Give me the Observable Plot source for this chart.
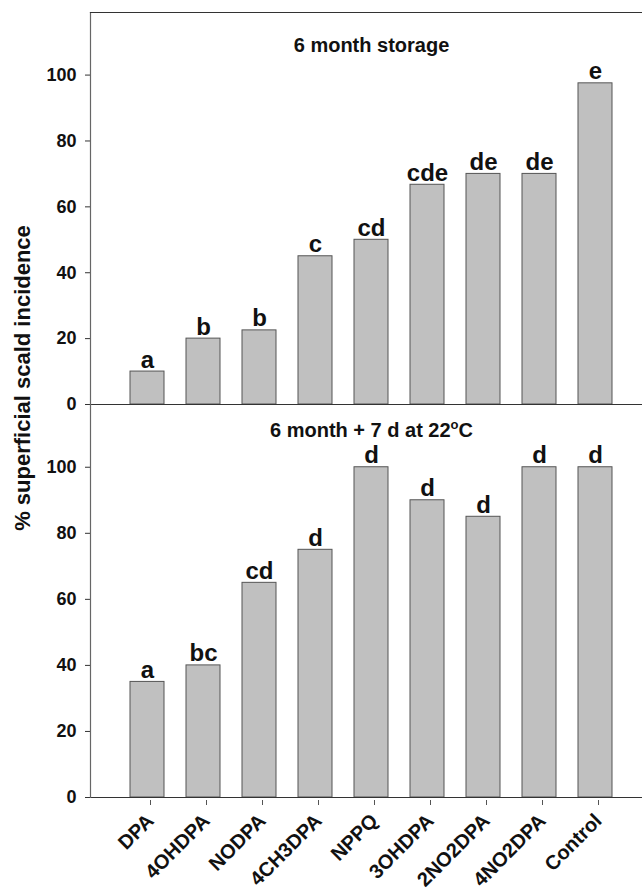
<!DOCTYPE html>
<html><head><meta charset="utf-8">
<script src="https://cdn.jsdelivr.net/npm/d3@7"></script>
<script src="https://cdn.jsdelivr.net/npm/@observablehq/plot@0.6"></script>
<style>
body{margin:0;background:#fff;font-family:"Liberation Sans",Arial,sans-serif}
#chart{position:relative;width:642px;height:892px;overflow:hidden;background:#fff}
#chart svg{display:block}
#chart svg.lower{margin-top:-12px}
#ylab{position:absolute;left:23px;top:378px;transform:translate(-50%,-50%) rotate(-90deg);white-space:nowrap;font-size:22px;font-weight:bold;color:#111}
</style>
</head><body><div id="chart"></div>
<script>
const treatments = ["DPA","4OHDPA","NODPA","4CH3DPA","NPPQ","3OHDPA","2NO2DPA","4NO2DPA","Control"];
const storage = [10, 20, 22.5, 45, 50, 66.7, 70, 70, 97.5];
const storageLetters = ["a","b","b","c","cd","cde","de","de","e"];
const shelf = [35, 40, 65, 75, 100, 90, 85, 100, 100];
const shelfLetters = ["a","bc","cd","d","d","d","d","d","d"];
const panelTitles = ["6 month storage", "6 month + 7 d at 22°C"];
const yTicks = [0, 20, 40, 60, 80, 100];
const yLabel = "% superficial scald incidence";

const xScale = {type:"band", domain: treatments, range:[106.6, 635.4], padding:0.4};
const yScale = {domain:[0,119]};
const lineColor = "#333";

function panel(values, letters, title, opts) {
  const rows = treatments.map((t,i)=>({t, v: values[i], l: letters[i]}));
  const marks = [
    Plot.barY(rows, {x:"t", y:"v", fill:"#c0c0c0", stroke:"#555", strokeWidth:1}),
    Plot.text(rows, {x:"t", y:"v", text:"l", lineAnchor:"bottom", dy:-4, fontSize:24, fontWeight:"bold", fill:"#111"}),
    Plot.text([title], {frameAnchor:"top", dx:5, dy:opts.titleDy, lineAnchor:"middle", fontSize:20, fontWeight:"bold", fill:"#111"}),
    Plot.axisY({ticks:yTicks, tickSize:5, tickPadding:9, fontSize:18, fontWeight:"bold", label:null, stroke:lineColor, color:"#111"}),
    Plot.ruleY([0], {stroke:lineColor, strokeWidth:1.2}),
    Plot.frame({anchor:"left", stroke:"#666", strokeWidth:1.2})
  ];
  if (opts.top) marks.push(Plot.frame({anchor:"top", stroke:lineColor, strokeWidth:1.2}));
  if (opts.xaxis) marks.push(Plot.axisX({tickRotate:-45, tickSize:5, tickPadding:12, dx:3, dy:3, fontSize:20, fontWeight:"bold", label:null, stroke:"#555", color:"#111"}));
  const svg = Plot.plot({
    width:642, height:opts.height,
    marginTop:opts.mt, marginBottom:opts.mb, marginLeft:90, marginRight:0,
    x:{...xScale, axis:null}, y:{...yScale, axis:null},
    style:{fontFamily:"'Liberation Sans', Arial, sans-serif", background:"transparent", color:"#111", overflow:"visible"},
    marks
  });
  return svg;
}

const chart = document.getElementById("chart");
chart.appendChild(panel(storage, storageLetters, panelTitles[0], {height:416, mt:12, mb:12, top:true, titleDy:33}));
const bottom = panel(shelf, shelfLetters, panelTitles[1], {height:500, mt:0, mb:107, top:false, xaxis:true, titleDy:26});
bottom.classList.add("lower");
chart.appendChild(bottom);

// superscript degree sign in the second panel title
bottom.querySelectorAll("text").forEach(t => {
  if (t.textContent === panelTitles[1]) {
    const ns = "http://www.w3.org/2000/svg";
    const parts = panelTitles[1].split("°");
    t.textContent = "";
    const a = document.createElementNS(ns, "tspan"); a.textContent = parts[0];
    const o = document.createElementNS(ns, "tspan"); o.textContent = "o"; o.setAttribute("dy", "-8"); o.setAttribute("font-size", "13");
    const c = document.createElementNS(ns, "tspan"); c.textContent = parts[1]; c.setAttribute("dy", "8");
    t.append(a, o, c);
  }
});

const yl = document.createElement("div");
yl.id = "ylab"; yl.textContent = yLabel;
chart.appendChild(yl);
</script>
</body></html>
